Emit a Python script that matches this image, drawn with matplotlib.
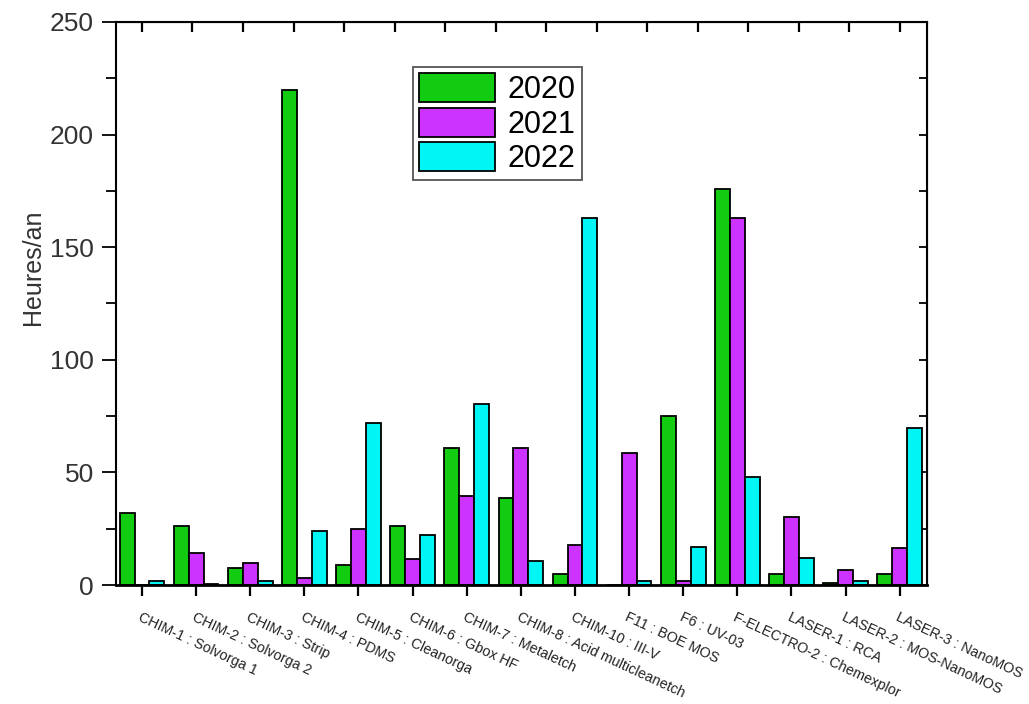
import numpy as np
import matplotlib
matplotlib.use("Agg")
import matplotlib.pyplot as plt

plt.rcParams['font.family'] = ['Liberation Sans', 'DejaVu Sans']

# Données
categories = [
    "CHIM-1 : Solvorga 1", "CHIM-2 : Solvorga 2", "CHIM-3 : Strip",
    "CHIM-4 : PDMS", "CHIM-5 : Cleanorga", "CHIM-6 : Gbox HF",
    "CHIM-7 : Metaletch", "CHIM-8 : Acid multicleanetch", "CHIM-10 : III-V",
    "F11 : BOE MOS", "F6 : UV-03", "F-ELECTRO-2 : Chemexplor",
    "LASER-1 : RCA", "LASER-2 : MOS-NanoMOS", "LASER-3 : NanoMOS",
]
annees = ["2020", "2021", "2022"]
h2020 = [32, 26, 7.5, 220, 9, 26, 61, 38.5, 5, 0, 75, 176, 5, 1, 5]
h2021 = [0, 14, 10, 3, 25, 11.5, 39.5, 61, 17.8, 58.7, 2, 163, 30, 6.7, 16.3]
h2022 = [2, 0.4, 2, 24, 72, 22, 80.5, 10.7, 163, 2, 17, 48, 12, 2, 69.5]

couleurs = ["#11cc11", "#cc33ff", "#00f5f5"]

fig = plt.figure(figsize=(10.29, 7.04), dpi=100)
ax = fig.add_axes([0.1127, 0.169, 0.788, 0.7998])

x = np.arange(len(categories))
w = 0.275
for k, (vals, c, lab) in enumerate(zip([h2020, h2021, h2022], couleurs, annees)):
    ax.bar(x + (k - 1) * w, vals, width=w, color=c, edgecolor="black",
           linewidth=1.3, label=lab)

ax.set_xlim(-0.48, 14.5)
ax.set_ylim(0, 250)
ax.set_xticks(x)
ax.set_xticklabels(categories, rotation=-25, ha="left", va="top",
                   rotation_mode="anchor", fontsize=10.3, color="#222222")
ax.set_yticks(np.arange(0, 251, 50))
ax.set_yticks(np.arange(25, 250, 50), minor=True)
ax.tick_params(axis="y", which="major", direction="out", length=10, width=1.3,
               labelsize=19, labelcolor="#333333", pad=6)
ax.tick_params(axis="y", which="minor", direction="out", length=7, width=1.3)
ax.tick_params(axis="x", direction="out", length=8, width=1.6, pad=10)
ax.set_ylabel("Heures/an", fontsize=18, color="#333333")
ax.yaxis.set_label_coords(-0.088, 0.565)

for s in ax.spines.values():
    s.set_linewidth(1.5)
ax.spines["bottom"].set_linewidth(2)

# Axes secondaires (graduations internes haut et droite)
top = ax.secondary_xaxis("top")
top.set_xticks(np.linspace(0, 14, 16))
top.tick_params(direction="in", length=7, width=1.6, labeltop=False)
right = ax.secondary_yaxis("right")
right.set_yticks(np.arange(0, 251, 25))
right.tick_params(direction="in", length=6, width=1.3, labelright=False)

leg = ax.legend(loc="upper left", bbox_to_anchor=(0.366, 0.92), fontsize=22,
                handlelength=2.5, handleheight=1.1, labelspacing=0.08,
                handletextpad=0.4, borderpad=0.2, borderaxespad=0,
                fancybox=False, framealpha=1, edgecolor="#555555")
leg.get_frame().set_linewidth(1.3)

fig.savefig("out.png", dpi=100)
